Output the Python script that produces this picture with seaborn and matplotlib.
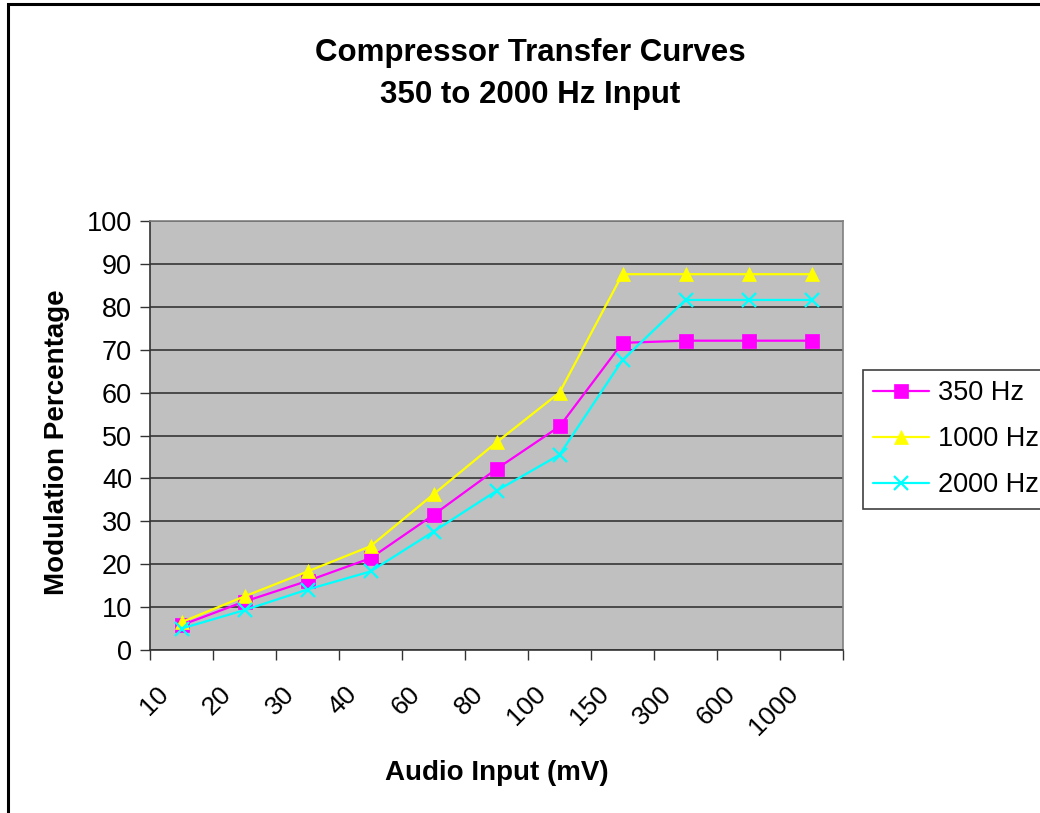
import matplotlib
matplotlib.use("Agg")
import matplotlib.pyplot as plt
import matplotlib.transforms as mtransforms
from matplotlib.patches import Rectangle
import seaborn as sns
import pandas as pd

categories = ["10", "20", "30", "40", "60", "80", "100", "150", "300", "600", "1000"]
hz350 = [5.8, 11.3, 16.1, 21.4, 31.5, 42.2, 52.1, 71.6, 72.1, 72.1, 72.1]
hz1000 = [6.5, 12.5, 18.3, 24.2, 36.3, 48.4, 60.0, 87.6, 87.6, 87.6, 87.6]
hz2000 = [5.0, 9.3, 14.1, 18.3, 27.6, 37.1, 45.5, 67.6, 81.6, 81.6, 81.6]
series_names = ["350 Hz", "1000 Hz", "2000 Hz"]

sns.set_theme(style="white")
plt.rcParams["font.family"] = ["Liberation Sans", "DejaVu Sans"]
plt.rcParams["text.color"] = "black"
plt.rcParams["axes.labelcolor"] = "black"
plt.rcParams["xtick.color"] = "black"
plt.rcParams["ytick.color"] = "black"

W, H = 1040, 813
fig = plt.figure(figsize=(W / 100, H / 100), dpi=100)
ax = fig.add_axes([150 / W, 1 - 650 / H, (843 - 150) / W, (650 - 221) / H])
ax.set_facecolor("#C0C0C0")

idx = list(range(len(categories)))
styles = [
    (hz350, "#FF00FF", "s", 9.5),
    (hz1000, "#FFFF00", "^", 10.5),
    (hz2000, "#00FFFF", "x", 10.5),
]
for name, (vals, col, mk, ms) in zip(series_names, styles):
    df = pd.DataFrame({"x": idx, "y": vals})
    sns.lineplot(data=df, x="x", y="y", ax=ax, color=col, marker=mk,
                 markersize=ms, markeredgecolor=col, markerfacecolor=col,
                 markeredgewidth=1.6 if mk == "x" else 0.5,
                 linewidth=1.6, label=name, zorder=3)

ax.set_xlim(-0.5, len(categories) - 0.5)
ax.set_ylim(0, 100)
ax.set_yticks(range(0, 101, 10))
ax.yaxis.grid(True, color="#404040", linewidth=1.3)
ax.set_axisbelow(True)
ax.set_xticks([i - 0.5 for i in range(len(categories) + 1)])
ax.set_xticklabels([])
ax.tick_params(axis="both", direction="out", length=7, width=1, color="#333333",
               labelsize=19.5, labelcolor="black", bottom=True, left=True)
ax.tick_params(axis="y", pad=6)
for sp in ["top", "right"]:
    ax.spines[sp].set_color("#808080")
    ax.spines[sp].set_linewidth(1.2)
for sp in ["left", "bottom"]:
    ax.spines[sp].set_color("#333333")
    ax.spines[sp].set_linewidth(1.2)

offset = mtransforms.ScaledTranslation(-17 / 100, -40 / 100, fig.dpi_scale_trans)
for i, lab in enumerate(categories):
    ax.text(i, 0, lab, transform=ax.get_xaxis_transform() + offset,
            rotation=45, rotation_mode="anchor", ha="right", va="center",
            fontsize=19, color="black")

ax.set_xlabel("")
ax.set_ylabel("")
fig.text(57 / W, 1 - 442 / H, "Modulation Percentage", rotation=90,
         ha="center", va="center", fontsize=20, fontweight="bold")
fig.text(497 / W, 1 - 773 / H, "Audio Input (mV)", ha="center", va="center",
         fontsize=20, fontweight="bold")
fig.text(530 / W, 1 - 74 / H, "Compressor Transfer Curves\n350 to 2000 Hz Input",
         ha="center", va="center", fontsize=22.5, fontweight="bold",
         linespacing=1.5)

leg = ax.legend(loc="upper left", bbox_to_anchor=(863 / W, 1 - 370 / H),
                bbox_transform=fig.transFigure, fontsize=19.5, frameon=True,
                fancybox=False, edgecolor="#404040", framealpha=1,
                handlelength=2.05, handletextpad=0.33, borderpad=0.38,
                labelspacing=0.74, borderaxespad=0)
leg.get_frame().set_linewidth(1.2)

fig.patches.append(Rectangle((8 / W, -0.05), 1.2, 1 - 4 / H + 0.05,
                             transform=fig.transFigure, fill=False,
                             edgecolor="black", linewidth=2.2, clip_on=False))

fig.savefig("out.png", dpi=100)
